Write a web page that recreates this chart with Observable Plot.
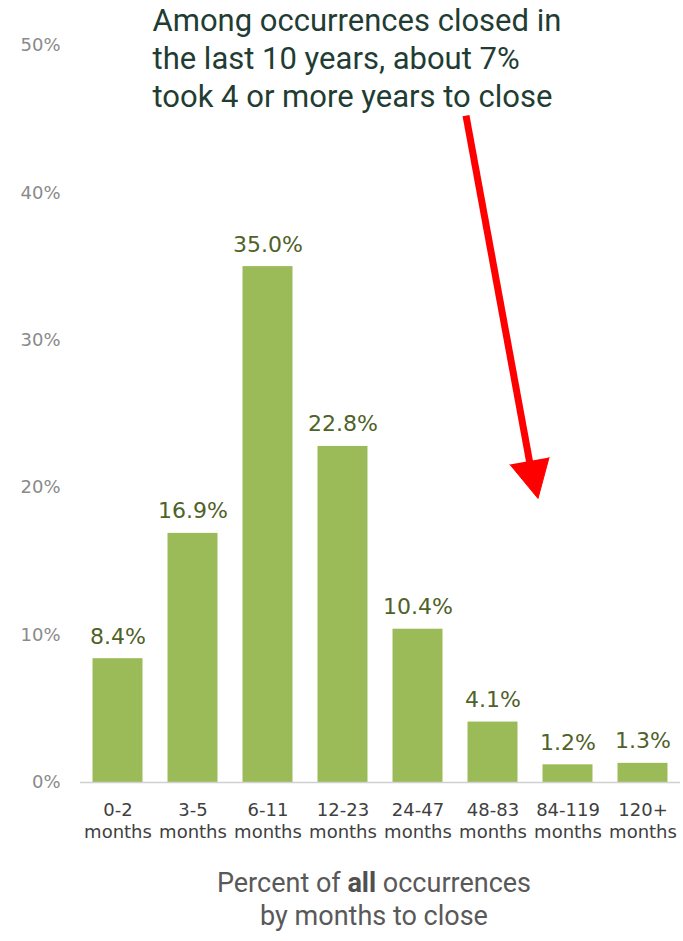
<!DOCTYPE html>
<html>
<head>
<meta charset="utf-8">
<script src="https://cdn.jsdelivr.net/npm/d3@7"></script>
<script src="https://cdn.jsdelivr.net/npm/@observablehq/plot@0.6"></script>
<style>
  html, body { margin: 0; padding: 0; background: #ffffff; }
  #chart svg { display: block; }
  .caption {
    width: 683px; box-sizing: border-box; padding-left: 65px;
    margin-top: 17px;
    text-align: center;
    font-family: Roboto, "Noto Sans", sans-serif;
    font-size: 27px; line-height: 33px; color: #595959;
  }
  .caption b { font-weight: 700; color: #505050; }
</style>
</head>
<body>
<div id="chart"></div>
<div class="caption">Percent of <b>all</b> occurrences<br>by months to close</div>
<script>
// ---- data ----
const categories = ["0-2", "3-5", "6-11", "12-23", "24-47", "48-83", "84-119", "120+"];
const unitLabel = "months";
const values = [8.4, 16.9, 35.0, 22.8, 10.4, 4.1, 1.2, 1.3];
const yTicks = [0, 10, 20, 30, 40, 50];
const titleLines = [
  "Among occurrences closed in",
  "the last 10 years, about 7%",
  "took 4 or more years to close"
];
// arrow annotation in data units (x: category index, y: percent)
const arrowShaft = [{x: 4.64, y: 45.25}, {x: 5.49, y: 21.7}];
const arrowHead = [{x: 5.227, y: 21.57}, {x: 5.6, y: 19.27}, {x: 5.747, y: 22.05}];

const data = categories.map((c, i) => ({i, category: c, value: values[i]}));

const chart = Plot.plot({
  width: 683,
  height: 850,
  marginLeft: 80,
  marginRight: 3,
  marginTop: 45,
  marginBottom: 68,
  style: {fontFamily: "'DejaVu Sans', Verdana, sans-serif", background: "#ffffff"},
  x: {domain: [-0.5, categories.length - 0.5]},
  y: {domain: [0, 50]},
  marks: [
    Plot.rectY(data, {
      x1: d => d.i - 1/3, x2: d => d.i + 1/3, y: "value",
      fill: "#9bbb59"
    }),
    Plot.ruleY([0], {stroke: "#d0d0d0", strokeWidth: 1.5}),
    Plot.axisY({
      ticks: yTicks, tickFormat: d => d + "%", tickSize: 0, tickPadding: 20,
      label: null, color: "#8a8a8a", fontSize: 18,
      fontFamily: "'DejaVu Sans', Verdana, sans-serif"
    }),
    Plot.axisX({
      ticks: d3.range(categories.length),
      tickFormat: i => categories[i] + "\n" + unitLabel,
      tickSize: 0, tickPadding: 18, lineHeight: 1.22,
      label: null, color: "#404040", fontSize: 18,
      fontFamily: "'DejaVu Sans', Verdana, sans-serif"
    }),
    Plot.text(data, {
      x: "i", y: "value", text: d => d.value.toFixed(1) + "%",
      lineAnchor: "bottom", dy: -15, fontSize: 22, fill: "#4f6228",
      fontFamily: "'DejaVu Sans', Verdana, sans-serif"
    }),
    Plot.line(arrowShaft, {x: "x", y: "y", stroke: "#ff0000", strokeWidth: 7, strokeLinecap: "butt"}),
    Plot.line(arrowHead, {x: "x", y: "y", fill: "#ff0000", stroke: "#ff0000", strokeWidth: 1, strokeLinejoin: "miter"}),
    Plot.text([titleLines.join("\n")], {
      frameAnchor: "top-left", dx: 72, dy: 61,
      textAnchor: "start", lineAnchor: "bottom", lineHeight: 1.21,
      fontSize: 31, fill: "#1f3d33",
      fontFamily: "Roboto, 'Noto Sans', sans-serif"
    })
  ]
});
document.getElementById("chart").appendChild(chart);
</script>
</body>
</html>
